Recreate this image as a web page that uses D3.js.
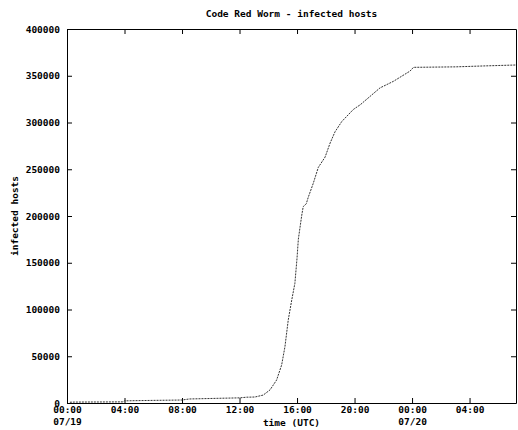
<!DOCTYPE html>
<head>
  <meta charset="utf-8">
  <style>
    body { margin: 0; background: #fff; }
    text { font-family: 'DejaVu Sans Mono', monospace; font-weight: bold; font-size: 9.5px; fill: #000; }
    .axis path, .axis line { stroke: #000; stroke-width: 1; }
  </style>
</head>
<body>
  <script src="https://cdn.jsdelivr.net/npm/d3@7"></script>
  <script>
    // chart size and plot box
    const width = 518;
    const height = 430;
    const margin = {top: 29, right: 2, bottom: 27, left: 67};
    const innerWidth = width - margin.left - margin.right;
    const innerHeight = height - margin.top - margin.bottom;

    // data: hours after 2001-07-19 00:00 UTC, and infected hosts
    const hours = [0.2, 0.5, 3.9, 4.0, 6.0, 8.0, 8.5, 10.5, 12.0, 12.5, 13.07, 13.65, 14.12,
      14.58, 14.93, 15.16, 15.39, 15.63, 15.85, 16.0, 16.09, 16.32, 16.43, 16.64, 16.78,
      17.13, 17.48, 17.95, 18.3, 18.64, 19.11, 19.92, 20.4, 21.77, 22.7, 23.86, 24.1,
      27.0, 29.0, 31.2];
    const hosts = [800, 1000, 1200, 2300, 2800, 3200, 4300, 5000, 5500, 6200, 6400, 8500, 14000,
      24600, 40700, 60300, 88900, 110000, 128000, 155000, 175000, 200000, 210000, 213000, 220000,
      235000, 252000, 263000, 278000, 290000, 301000, 314000, 319000, 337000, 344000, 355000, 359000,
      359500, 360500, 361500];
    const yTicks = [0, 50000, 100000, 150000, 200000, 250000, 300000, 350000, 400000];

    const t0 = Date.UTC(2001, 6, 19, 0, 0);
    const tEnd = new Date(t0 + 31.23 * 3600000);
    const data = hours.map((h, i) => ({date: new Date(t0 + h * 3600000), value: hosts[i]}));

    const svg = d3.select("body").append("svg")
      .attr("width", width)
      .attr("height", height);

    const g = svg.append("g")
      .attr("transform", "translate(" + margin.left + "," + margin.top + ")");

    const x = d3.scaleUtc().domain([new Date(t0), tEnd]).range([0, innerWidth]);
    const y = d3.scaleLinear().domain([0, 400000]).range([innerHeight, 0]);

    const hourFmt = d3.utcFormat("%H:%M");
    const dayFmt = d3.utcFormat("%m/%d");

    // bottom axis, date written on a second line at midnight
    const xb = g.append("g")
      .attr("class", "axis")
      .attr("transform", "translate(0," + innerHeight + ")")
      .call(d3.axisBottom(x).ticks(d3.utcHour.every(4)).tickFormat(hourFmt)
        .tickSizeInner(-5).tickSizeOuter(0).tickPadding(3));
    xb.selectAll(".tick text").each(function(d) {
      if (d.getUTCHours() === 0) {
        d3.select(this).append("tspan").attr("x", 0).attr("dy", "1.3em").text(dayFmt(d));
      }
    });

    g.append("g")
      .attr("class", "axis")
      .call(d3.axisTop(x).ticks(d3.utcHour.every(4)).tickFormat("")
        .tickSizeInner(-5).tickSizeOuter(0));

    g.append("g")
      .attr("class", "axis")
      .call(d3.axisLeft(y).tickValues(yTicks).tickFormat(d3.format("d"))
        .tickSizeInner(-5).tickSizeOuter(0).tickPadding(7));

    g.append("g")
      .attr("class", "axis")
      .attr("transform", "translate(" + innerWidth + ",0)")
      .call(d3.axisRight(y).tickValues(yTicks).tickFormat("")
        .tickSizeInner(-5).tickSizeOuter(0));

    // curve
    const line = d3.line().x(d => x(d.date)).y(d => y(d.value));
    g.append("path")
      .datum(data)
      .attr("d", line)
      .attr("fill", "none")
      .attr("stroke", "#333")
      .attr("stroke-width", 1)
      .attr("stroke-dasharray", "2,1");

    // title and axis labels
    svg.append("text")
      .attr("x", margin.left + innerWidth / 2)
      .attr("y", 17)
      .attr("text-anchor", "middle")
      .text("Code Red Worm - infected hosts");

    svg.append("text")
      .attr("x", margin.left + innerWidth / 2)
      .attr("y", 426)
      .attr("text-anchor", "middle")
      .text("time (UTC)");

    svg.append("text")
      .attr("transform", "translate(18," + (margin.top + innerHeight / 2) + ") rotate(-90)")
      .attr("text-anchor", "middle")
      .text("infected hosts");
  </script>
</body>
